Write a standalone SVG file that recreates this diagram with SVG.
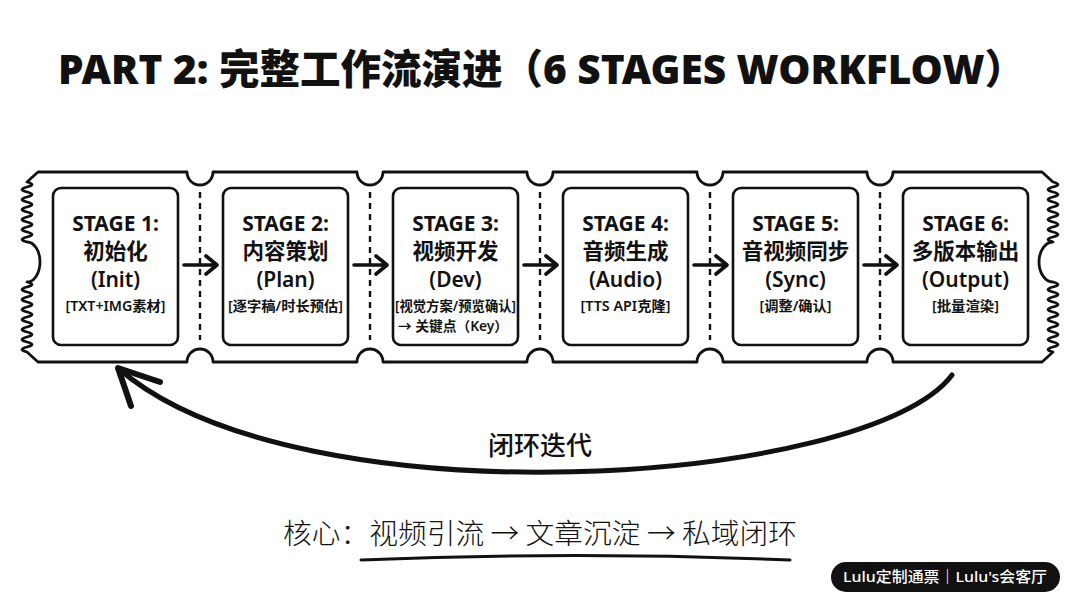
<svg xmlns="http://www.w3.org/2000/svg" width="1080" height="603" viewBox="0 0 1080 603">
<style>
.ln{fill:none;stroke:#111;stroke-linecap:round;stroke-linejoin:round}
.box{fill:#fff;stroke:#111;stroke-width:2.6}
.div{stroke:#111;stroke-width:2.4;stroke-dasharray:6 5}
.t{font-family:"Noto Sans","Noto Sans CJK SC",sans-serif;fill:#111;text-anchor:middle}
.h{font-size:21px;font-weight:700}
.c{font-size:21.5px;font-weight:700;font-family:"Noto Sans CJK SC","Noto Sans",sans-serif}
.e{font-size:21px;font-weight:600}
.s{font-size:13.5px;font-weight:600}
</style>
<rect width="1080" height="603" fill="#fff"/>
<text x="58" y="84" font-family="'Noto Sans','Noto Sans CJK SC',sans-serif" font-size="41" font-weight="900" fill="#111" textLength="967" lengthAdjust="spacingAndGlyphs">PART 2: 完整工作流演进（6 STAGES WORKFLOW）</text>
<g id="ticket">
<path class="ln" stroke-width="2.8" d="M38 172 H187 A13 13 0 0 0 213 172 H357 A13 13 0 0 0 383 172 H527 A13 13 0 0 0 553 172 H697 A13 13 0 0 0 723 172 H867 A13 13 0 0 0 893 172 H1042 L1053 182 q10 2.5 0 5 t0 5 t0 5 t0 5 t0 5 t0 5 t0 5 t0 5 t0 5 t0 5 t0 5 t0 5 A14 20 0 0 0 1053 282 q10 2.5 0 5 t0 5 t0 5 t0 5 t0 5 t0 5 t0 5 t0 5 t0 5 t0 5 t0 5 t0 5 t0 5 t0 5 L1042 362 H893 A13 13 0 0 0 867 362 H723 A13 13 0 0 0 697 362 H553 A13 13 0 0 0 527 362 H383 A13 13 0 0 0 357 362 H213 A13 13 0 0 0 187 362 H38 L27 352 q-10 -2.5 0 -5 t0 -5 t0 -5 t0 -5 t0 -5 t0 -5 t0 -5 t0 -5 t0 -5 t0 -5 t0 -5 t0 -5 t0 -5 t0 -5 A13 20 0 0 0 27 242 q-10 -2.5 0 -5 t0 -5 t0 -5 t0 -5 t0 -5 t0 -5 t0 -5 t0 -5 t0 -5 t0 -5 t0 -5 t0 -5 Z"/>
<line class="div" x1="200" y1="192" x2="200" y2="340"/>
<line class="div" x1="370" y1="192" x2="370" y2="340"/>
<line class="div" x1="540" y1="192" x2="540" y2="340"/>
<line class="div" x1="710" y1="192" x2="710" y2="340"/>
<line class="div" x1="880" y1="192" x2="880" y2="340"/>
</g>
<g id="stage1">
<rect class="box" x="53" y="188" width="125" height="157" rx="8"/>
<text class="t h" x="115.5" y="231">STAGE 1:</text>
<text class="t c" x="115.5" y="259">初始化</text>
<text class="t e" x="115.5" y="287">(Init)</text>
<text class="t s" x="115.5" y="311" textLength="100" lengthAdjust="spacingAndGlyphs">[TXT+IMG素材]</text>
</g>
<g id="stage2">
<rect class="box" x="223" y="188" width="125" height="157" rx="8"/>
<text class="t h" x="285.5" y="231">STAGE 2:</text>
<text class="t c" x="285.5" y="259">内容策划</text>
<text class="t e" x="285.5" y="287">(Plan)</text>
<text class="t s" x="285.5" y="311" textLength="115" lengthAdjust="spacingAndGlyphs">[逐字稿/时长预估]</text>
</g>
<g id="stage3">
<rect class="box" x="393" y="188" width="125" height="157" rx="8"/>
<text class="t h" x="455.5" y="231">STAGE 3:</text>
<text class="t c" x="455.5" y="259">视频开发</text>
<text class="t e" x="455.5" y="287">(Dev)</text>
<text class="t s" x="455.5" y="311" textLength="121" lengthAdjust="spacingAndGlyphs">[视觉方案/预览确认]</text>
<text class="t s" x="453" y="331" textLength="110" lengthAdjust="spacingAndGlyphs">→ 关键点（Key）</text>
</g>
<g id="stage4">
<rect class="box" x="563" y="188" width="125" height="157" rx="8"/>
<text class="t h" x="625.5" y="231">STAGE 4:</text>
<text class="t c" x="625.5" y="259">音频生成</text>
<text class="t e" x="625.5" y="287">(Audio)</text>
<text class="t s" x="625.5" y="311" textLength="90" lengthAdjust="spacingAndGlyphs">[TTS API克隆]</text>
</g>
<g id="stage5">
<rect class="box" x="733" y="188" width="125" height="157" rx="8"/>
<text class="t h" x="795.5" y="231">STAGE 5:</text>
<text class="t c" x="795.5" y="259">音视频同步</text>
<text class="t e" x="795.5" y="287">(Sync)</text>
<text class="t s" x="795.5" y="311" textLength="72" lengthAdjust="spacingAndGlyphs">[调整/确认]</text>
</g>
<g id="stage6">
<rect class="box" x="903" y="188" width="125" height="157" rx="8"/>
<text class="t h" x="965.5" y="231">STAGE 6:</text>
<text class="t c" x="965.5" y="259">多版本输出</text>
<text class="t e" x="965.5" y="287">(Output)</text>
<text class="t s" x="965.5" y="311" textLength="67" lengthAdjust="spacingAndGlyphs">[批量渲染]</text>
</g>
<g id="connectors">
<path class="ln" stroke-width="3.6" d="M184 265 H216 M206 256 L217 265 L206 274"/>
<path class="ln" stroke-width="3.6" d="M354 265 H386 M376 256 L387 265 L376 274"/>
<path class="ln" stroke-width="3.6" d="M524 265 H556 M546 256 L557 265 L546 274"/>
<path class="ln" stroke-width="3.6" d="M694 265 H726 M716 256 L727 265 L716 274"/>
<path class="ln" stroke-width="3.6" d="M864 265 H896 M886 256 L897 265 L886 274"/>
<path class="ln" stroke-width="5" d="M952 375 C870 485 300 525 119 369"/>
<path class="ln" stroke-width="6" d="M160 382 L118 368 L131 406"/>
</g>
<text x="540" y="455" font-family="'Noto Sans CJK SC',sans-serif" font-size="26" font-weight="500" fill="#111" text-anchor="middle">闭环迭代</text>
<g id="core">
<text x="283" y="544" font-family="'Noto Sans CJK SC',sans-serif" font-size="28" font-weight="300" fill="#111" textLength="514" lengthAdjust="spacingAndGlyphs">核心：视频引流 → 文章沉淀 → 私域闭环</text>
<path class="ln" stroke-width="3" d="M361 560 Q575 551 790 560"/>
</g>
<g id="badge">
<rect x="831" y="562" width="229" height="30" rx="15" fill="#111"/>
<text x="945" y="582" font-family="'Noto Sans','Noto Sans CJK SC',sans-serif" font-size="15" font-weight="500" fill="#fff" text-anchor="middle" textLength="204" lengthAdjust="spacingAndGlyphs">Lulu定制通票｜Lulu's会客厅</text>
</g>
</svg>
